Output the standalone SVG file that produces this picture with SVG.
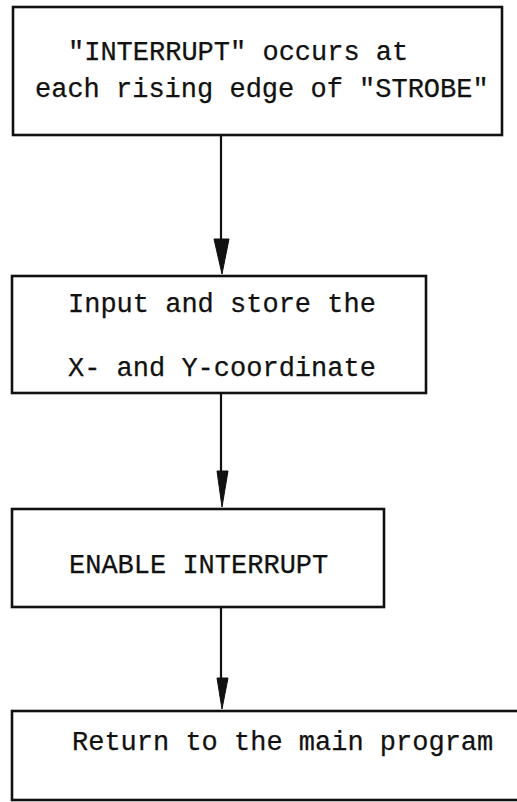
<svg xmlns="http://www.w3.org/2000/svg" width="517" height="802" viewBox="0 0 517 802">
  <style>
    .box { fill: #fff; stroke: #111; stroke-width: 2.6; }
    .label { font-family: "Liberation Mono", "DejaVu Sans Mono", monospace; font-size: 27px; fill: #111; stroke: #111; stroke-width: 0.25; }
    .link { stroke: #111; stroke-width: 2.2; fill: none; }
    .head { fill: #111; stroke: #111; stroke-width: 1; stroke-linejoin: round; }
  </style>
  <rect width="517" height="802" fill="#fff"/>

  <!-- flow arrows between the steps -->
  <g id="connectors">
    <line class="link" x1="221" y1="135" x2="221" y2="250"/>
    <polygon class="head" points="214,239 229,239 222,274"/>
    <line class="link" x1="221" y1="393" x2="221" y2="480"/>
    <polygon class="head" points="217,471 228,471 222,507"/>
    <line class="link" x1="221" y1="607" x2="221" y2="685"/>
    <polygon class="head" points="217,678 228,678 222,709"/>
  </g>

  <g id="node-interrupt">
    <rect class="box" x="13" y="7" width="489" height="128"/>
    <text class="label" x="68" y="60">"INTERRUPT" occurs at</text>
    <text class="label" x="35" y="97">each rising edge of "STROBE"</text>
  </g>

  <g id="node-input">
    <rect class="box" x="12" y="276" width="414" height="117"/>
    <text class="label" x="68" y="312">Input and store the</text>
    <text class="label" x="68" y="376">X- and Y-coordinate</text>
  </g>

  <g id="node-enable">
    <rect class="box" x="12" y="509" width="372" height="98"/>
    <text class="label" x="69" y="573">ENABLE INTERRUPT</text>
  </g>

  <!-- last step runs past the right edge of the page -->
  <g id="node-return">
    <rect class="box" x="12" y="711" width="520" height="89"/>
    <text class="label" x="72" y="750">Return to the main program</text>
  </g>
</svg>
